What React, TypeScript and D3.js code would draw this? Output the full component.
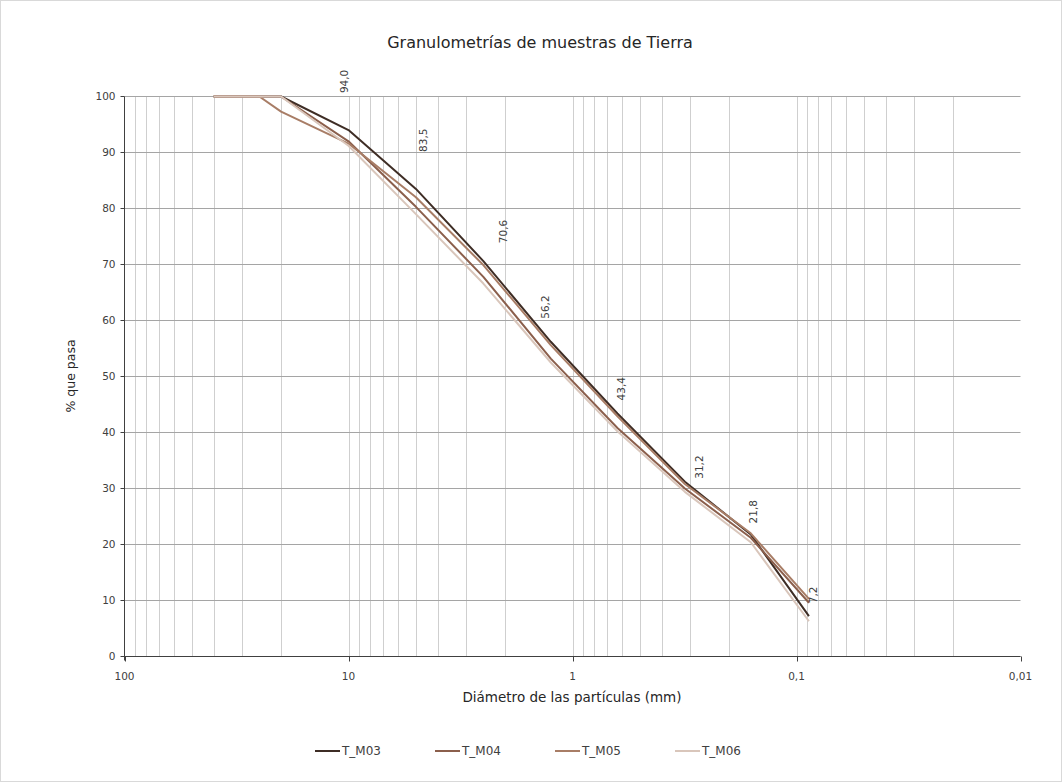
import React from "react";
import * as d3 from "d3";

const sieves = [40, 25, 20, 10, 5, 2.5, 1.25, 0.63, 0.315, 0.16, 0.088];
const seriesNames = ["T_M03", "T_M04", "T_M05", "T_M06"];
const tM03 = [100, 100, 100, 94.0, 83.5, 70.6, 56.2, 43.4, 31.2, 21.8, 7.2];
const tM04 = [100, 100, 100, 92.0, 80.3, 67.8, 53.2, 40.8, 30.0, 21.2, 9.6];
const tM05 = [100, 100, 97.3, 91.6, 82.0, 69.9, 55.6, 42.9, 30.8, 22.0, 10.3];
const tM06 = [100, 100, 100, 91.2, 79.0, 66.6, 52.5, 40.2, 29.4, 20.4, 6.3];
const seriesValues = [tM03, tM04, tM05, tM06];
const seriesColors = ["#3e2d25", "#8b5f4c", "#a87d66", "#d9c6bb"];
const labelText = ["94,0", "83,5", "70,6", "56,2", "43,4", "31,2", "21,8", "7,2"];
// label nudges (dx, dy) relative to T_M03 points from 10 mm onward
const labelNudge = [[-4, -37], [7, -37], [20, -18], [-5, -23], [4, -13], [14, -3], [3, -11], [4, -13]];
const yTicks = [0, 10, 20, 30, 40, 50, 60, 70, 80, 90, 100];
const xMajor = [100, 10, 1, 0.1, 0.01];
const xMajorLabels = ["100", "10", "1", "0,1", "0,01"];

const W = 1062, H = 782;
const FONT = "'DejaVu Sans', sans-serif";

export default function App() {
  const x = d3.scaleLog().domain([100, 0.01]).range([124.5, 1020.5]);
  const y = d3.scaleLinear().domain([0, 100]).range([656.5, 96.5]);

  const minor: number[] = [];
  [10, 1, 0.1, 0.01].forEach((dec) => {
    for (let k = 1; k <= 9; k++) {
      const v = dec * k;
      if (v < 100 && v > 0.01) minor.push(v);
    }
  });

  const line = d3
    .line<[number, number]>()
    .x((d) => x(d[0]))
    .y((d) => y(d[1]))
    .curve(d3.curveLinear);

  const labelIdx0 = 3;

  return (
    <svg width={W} height={H} style={{ position: "absolute", left: 0, top: 0, background: "#fff" }} fontFamily={FONT}>
      <rect x={0.5} y={0.5} width={W - 1} height={H - 1} fill="#fff" stroke="#d9d9d9" />
      <text x={540} y={48} textAnchor="middle" fontSize={16} fill="#262626">
        Granulometrías de muestras de Tierra
      </text>

      {minor.map((v, i) => (
        <line key={"v" + i} x1={Math.round(x(v)) + 0.5} x2={Math.round(x(v)) + 0.5} y1={y(100)} y2={y(0)} stroke="#cfcfcf" strokeWidth={1} />
      ))}
      {yTicks.map((t) => (
        <line key={"h" + t} x1={x(100)} x2={x(0.01)} y1={y(t)} y2={y(t)} stroke="#a5a5a5" strokeWidth={1} />
      ))}

      <line x1={x(100)} x2={x(100)} y1={y(100)} y2={y(0) + 4} stroke="#404040" strokeWidth={1} />
      <line x1={x(100)} x2={x(0.01)} y1={y(0)} y2={y(0)} stroke="#404040" strokeWidth={1} />
      {yTicks.map((t) => (
        <g key={"yt" + t}>
          <line x1={x(100) - 4} x2={x(100)} y1={y(t)} y2={y(t)} stroke="#404040" />
          <text x={x(100) - 9} y={y(t)} dy="0.35em" textAnchor="end" fontSize={10.5} fill="#404040">
            {t}
          </text>
        </g>
      ))}
      {xMajor.map((v, i) => (
        <g key={"xt" + i}>
          <line x1={Math.round(x(v)) + 0.5} x2={Math.round(x(v)) + 0.5} y1={y(0)} y2={y(0) + 5} stroke="#404040" />
          <text x={x(v)} y={y(0) + 23} textAnchor="middle" fontSize={10.5} fill="#404040">
            {xMajorLabels[i]}
          </text>
        </g>
      ))}

      <text x={572} y={702} textAnchor="middle" fontSize={13.5} fill="#262626">
        Diámetro de las partículas (mm)
      </text>
      <text transform={`translate(75,376) rotate(-90)`} textAnchor="middle" fontSize={12.5} fill="#262626">
        % que pasa
      </text>

      {seriesValues.map((vals, si) => (
        <path
          key={"s" + si}
          d={line(sieves.map((s, i) => [s, vals[i]] as [number, number])) || ""}
          fill="none"
          stroke={seriesColors[si]}
          strokeWidth={2}
          strokeLinejoin="round"
        />
      ))}

      {labelText.map((lab, i) => {
        const idx = labelIdx0 + i;
        const px = x(sieves[idx]) + labelNudge[i][0];
        const py = y(tM03[idx]) + labelNudge[i][1];
        return (
          <text key={"l" + i} transform={`translate(${px},${py}) rotate(-90)`} dy="0.35em" textAnchor="start" fontSize={10.5} fill="#404040">
            {lab}
          </text>
        );
      })}

      {seriesNames.map((n, i) => {
        const lx = 315 + i * 120;
        return (
          <g key={"lg" + i}>
            <line x1={lx} x2={lx + 25} y1={751} y2={751} stroke={seriesColors[i]} strokeWidth={2} />
            <text x={lx + 27} y={751} dy="0.35em" fontSize={12} fill="#404040">
              {n}
            </text>
          </g>
        );
      })}
    </svg>
  );
}
